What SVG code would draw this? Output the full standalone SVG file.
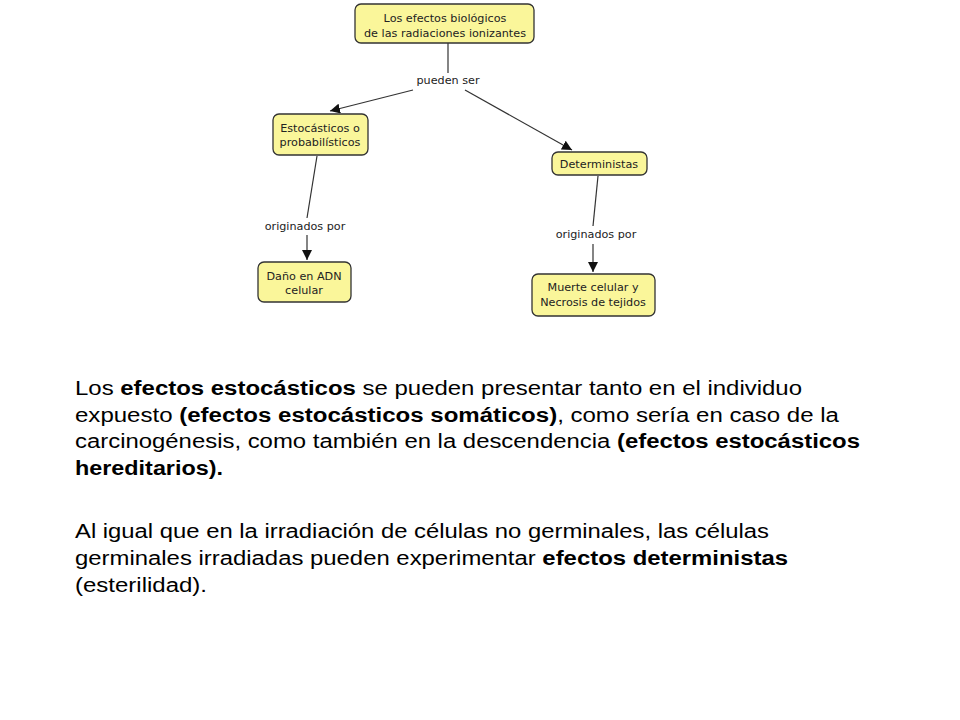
<svg xmlns="http://www.w3.org/2000/svg" width="960" height="720" viewBox="0 0 960 720">
<style>
.node rect{fill:#faf69a;stroke:#333;stroke-width:1.3}
.node text,.lbl{font-family:"DejaVu Sans",Verdana,sans-serif;font-size:11.2px;fill:#222;text-anchor:middle}
.conn line{stroke:#333;stroke-width:1.2}
.p{font-family:"Liberation Sans",Arial,sans-serif;font-size:19.5px;fill:#000}
.b{font-weight:bold}
</style>
<defs>
<marker id="ah" viewBox="0 0 10 10" refX="10" refY="5" markerWidth="10" markerHeight="10" markerUnits="userSpaceOnUse" orient="auto">
<path d="M0,0 L10,5 L0,10 z" fill="#111"/>
</marker>
</defs>
<rect width="960" height="720" fill="#fff"/>
<g class="conn">
<line x1="448" y1="43" x2="448" y2="73"/>
<line x1="413" y1="90" x2="330" y2="111" marker-end="url(#ah)"/>
<line x1="465" y1="90" x2="572" y2="150" marker-end="url(#ah)"/>
<line x1="317" y1="156" x2="307" y2="218"/>
<line x1="307" y1="235" x2="307" y2="260" marker-end="url(#ah)"/>
<line x1="598" y1="176" x2="593" y2="226"/>
<line x1="593" y1="244" x2="593" y2="272" marker-end="url(#ah)"/>
<text class="lbl" x="448" y="84">pueden ser</text>
<text class="lbl" x="305" y="230">originados por</text>
<text class="lbl" x="596" y="238">originados por</text>
</g>
<g id="n-root" class="node">
<rect x="355" y="4" width="179" height="39" rx="6"/>
<text x="445" y="22">Los efectos biológicos</text>
<text x="445" y="37">de las radiaciones ionizantes</text>
</g>
<g id="n-esto" class="node">
<rect x="273" y="114" width="95" height="41" rx="6"/>
<text x="320" y="132">Estocásticos o</text>
<text x="320" y="146">probabilísticos</text>
</g>
<g id="n-det" class="node">
<rect x="552" y="152" width="95" height="23" rx="6"/>
<text x="599" y="168">Deterministas</text>
</g>
<g id="n-dano" class="node">
<rect x="258" y="262" width="93" height="40" rx="6"/>
<text x="304" y="280">Daño en ADN</text>
<text x="304" y="294">celular</text>
</g>
<g id="n-muerte" class="node">
<rect x="532" y="274" width="123" height="42" rx="6"/>
<text x="593" y="291">Muerte celular y</text>
<text x="593" y="306">Necrosis de tejidos</text>
</g>
<g id="para">
<text class="p" x="75" y="395" textLength="727" lengthAdjust="spacingAndGlyphs">Los <tspan class="b">efectos estocásticos</tspan> se pueden presentar tanto en el individuo</text>
<text class="p" x="75" y="421.5" textLength="764" lengthAdjust="spacingAndGlyphs">expuesto <tspan class="b">(efectos estocásticos somáticos)</tspan>, como sería en caso de la</text>
<text class="p" x="75" y="448" textLength="785" lengthAdjust="spacingAndGlyphs">carcinogénesis, como también en la descendencia <tspan class="b">(efectos estocásticos</tspan></text>
<text class="p b" x="75" y="475" textLength="148" lengthAdjust="spacingAndGlyphs">hereditarios).</text>
<text class="p" x="75" y="538" textLength="694" lengthAdjust="spacingAndGlyphs">Al igual que en la irradiación de células no germinales, las células</text>
<text class="p" x="75" y="565" textLength="713" lengthAdjust="spacingAndGlyphs">germinales irradiadas pueden experimentar <tspan class="b">efectos deterministas</tspan></text>
<text class="p" x="75" y="591.5" textLength="132" lengthAdjust="spacingAndGlyphs">(esterilidad).</text>
</g>
</svg>
